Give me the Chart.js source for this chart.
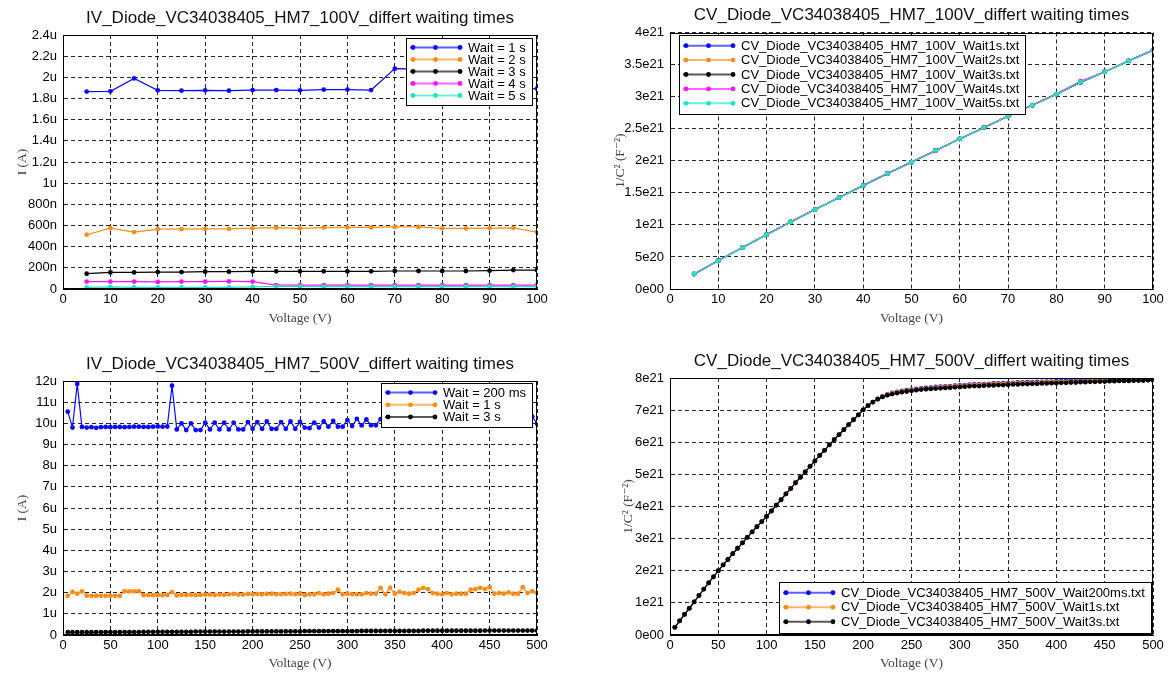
<!DOCTYPE html>
<html>
<head>
<meta charset="utf-8">
<script src="https://cdn.jsdelivr.net/npm/chart.js@4.4.0/dist/chart.umd.min.js"></script>
<style>
  html, body { margin: 0; padding: 0; background: #fff; overflow: hidden; }
  canvas { position: absolute; }
</style>
</head>
<body>
<canvas id="ivLow" width="586" height="338" style="left:0;top:0"></canvas>
<canvas id="cvLow" width="587" height="338" style="left:586px;top:0"></canvas>
<canvas id="ivHigh" width="586" height="339" style="left:0;top:338px"></canvas>
<canvas id="cvHigh" width="587" height="339" style="left:586px;top:338px"></canvas>
<script>
// ---- data: 100V sweeps (IV in uA, 1/C^2 in 1e21 F^-2) ----
const volts100 = [5, 10, 15, 20, 25, 30, 35, 40, 45, 50, 55, 60, 65, 70, 75, 80, 85, 90, 95, 100];

const iv100Wait1 = [1.865, 1.868, 1.99, 1.877, 1.874, 1.877, 1.874, 1.880, 1.880, 1.877, 1.884, 1.884, 1.880, 2.082, 2.079, 2.08, 2.08, 1.89, 1.89, 1.893];
const iv100Wait2 = [0.513, 0.575, 0.538, 0.566, 0.566, 0.569, 0.569, 0.575, 0.579, 0.573, 0.580, 0.582, 0.582, 0.587, 0.587, 0.573, 0.573, 0.575, 0.578, 0.538];
const iv100Wait3 = [0.145, 0.157, 0.157, 0.160, 0.160, 0.164, 0.164, 0.167, 0.167, 0.167, 0.167, 0.167, 0.167, 0.170, 0.170, 0.170, 0.170, 0.173, 0.179, 0.179];
const iv100Wait4 = [0.070, 0.070, 0.070, 0.067, 0.070, 0.070, 0.072, 0.070, 0.036, 0.036, 0.036, 0.036, 0.036, 0.036, 0.036, 0.036, 0.036, 0.036, 0.036, 0.036];
const iv100Wait5 = [0.016, 0.020, 0.015, 0.015, 0.015, 0.015, 0.016, 0.020, 0.024, 0.024, 0.022, 0.022, 0.022, 0.022, 0.022, 0.022, 0.022, 0.022, 0.022, 0.022];

const cv100Wait1 = [0.232, 0.441, 0.644, 0.847, 1.045, 1.237, 1.424, 1.612, 1.799, 1.976, 2.158, 2.340, 2.517, 2.693, 2.865, 3.037, 3.222, 3.385, 3.557, 3.723];
const cv100Wait2 = [0.233, 0.442, 0.645, 0.848, 1.046, 1.238, 1.425, 1.613, 1.800, 1.977, 2.159, 2.341, 2.518, 2.694, 2.866, 3.038, 3.224, 3.386, 3.558, 3.724];
const cv100Wait3 = [0.234, 0.443, 0.646, 0.849, 1.047, 1.239, 1.426, 1.614, 1.801, 1.978, 2.160, 2.342, 2.519, 2.695, 2.867, 3.039, 3.226, 3.387, 3.559, 3.725];
const cv100Wait4 = [0.235, 0.444, 0.646, 0.849, 1.047, 1.239, 1.426, 1.614, 1.801, 1.978, 2.160, 2.342, 2.519, 2.696, 2.868, 3.040, 3.240, 3.388, 3.560, 3.726];
const cv100Wait5 = [0.234, 0.442, 0.645, 0.848, 1.046, 1.238, 1.425, 1.613, 1.800, 1.977, 2.159, 2.341, 2.518, 2.694, 2.866, 3.038, 3.225, 3.386, 3.558, 3.724];

// ---- data: 500V sweeps ----
const volts500 = [
  5, 10, 15, 20, 25, 30, 35, 40, 45, 50, 55, 60, 65, 70, 75, 80, 85, 90, 95, 100,
  105, 110, 115, 120, 125, 130, 135, 140, 145, 150, 155, 160, 165, 170, 175, 180, 185, 190, 195, 200,
  205, 210, 215, 220, 225, 230, 235, 240, 245, 250, 255, 260, 265, 270, 275, 280, 285, 290, 295, 300,
  305, 310, 315, 320, 325, 330, 335, 340, 345, 350, 355, 360, 365, 370, 375, 380, 385, 390, 395, 400,
  405, 410, 415, 420, 425, 430, 435, 440, 445, 450, 455, 460, 465, 470, 475, 480, 485, 490, 495, 500
];

const iv500Wait200ms = [
  10.55, 9.80, 11.86, 9.83, 9.80, 9.82, 9.79, 9.82, 9.83, 9.82,
  9.83, 9.83, 9.82, 9.83, 9.84, 9.84, 9.83, 9.83, 9.84, 9.85,
  9.84, 9.85, 11.78, 9.71, 10.00, 9.68, 10.00, 9.68, 9.68, 10.03,
  9.71, 10.03, 9.71, 10.03, 9.71, 10.03, 9.71, 9.71, 10.06, 9.74,
  10.06, 9.74, 10.09, 9.74, 9.74, 10.06, 9.74, 10.09, 9.74, 10.07,
  9.80, 9.77, 10.03, 9.80, 10.09, 9.84, 10.12, 9.84, 9.84, 10.15,
  9.87, 10.21, 9.90, 10.18, 9.91, 9.91, 10.20, 9.92, 10.22, 9.93,
  10.22, 9.94, 9.94, 10.24, 9.95, 10.25, 9.96, 10.26, 9.96, 9.97,
  10.27, 9.98, 10.28, 9.98, 10.28, 9.99, 9.99, 10.30, 10.00, 10.30,
  10.00, 10.31, 10.01, 10.01, 10.31, 10.02, 10.32, 10.02, 10.31, 9.99
];
const iv500Wait1 = [
  1.85, 2.04, 1.95, 2.06, 1.86, 1.85, 1.86, 1.85, 1.85, 1.86,
  1.85, 1.85, 2.07, 2.06, 2.06, 2.07, 1.88, 1.88, 1.88, 1.89,
  1.88, 1.89, 2.03, 1.87, 1.90, 1.89, 1.90, 1.88, 1.90, 1.91,
  1.91, 1.89, 1.91, 1.90, 1.92, 1.94, 1.91, 1.91, 1.94, 1.92,
  1.94, 1.92, 1.94, 1.95, 1.92, 1.93, 1.94, 1.95, 1.93, 1.95,
  1.89, 1.92, 1.92, 1.98, 1.92, 1.95, 1.98, 2.14, 1.92, 1.95,
  1.92, 1.92, 1.92, 1.98, 1.95, 1.95, 2.23, 1.92, 2.23, 1.95,
  2.04, 1.98, 1.95, 1.98, 2.14, 2.23, 2.17, 1.98, 1.95, 1.92,
  1.98, 1.92, 1.95, 1.95, 1.95, 2.14, 2.17, 2.23, 2.17, 2.26,
  1.95, 1.98, 1.95, 2.01, 1.95, 1.95, 2.26, 1.98, 2.07, 1.98
];
const iv500Wait3 = [
  0.13, 0.13, 0.13, 0.13, 0.13, 0.13, 0.13, 0.14, 0.14, 0.14,
  0.14, 0.14, 0.14, 0.14, 0.14, 0.14, 0.15, 0.15, 0.15, 0.15,
  0.15, 0.15, 0.15, 0.15, 0.15, 0.15, 0.15, 0.16, 0.16, 0.16,
  0.16, 0.16, 0.16, 0.16, 0.16, 0.16, 0.16, 0.16, 0.17, 0.17,
  0.17, 0.17, 0.17, 0.17, 0.17, 0.17, 0.17, 0.17, 0.17, 0.17,
  0.18, 0.18, 0.18, 0.18, 0.18, 0.18, 0.18, 0.18, 0.18, 0.18,
  0.18, 0.18, 0.19, 0.19, 0.19, 0.19, 0.19, 0.19, 0.19, 0.19,
  0.19, 0.19, 0.19, 0.19, 0.19, 0.20, 0.20, 0.20, 0.20, 0.20,
  0.20, 0.20, 0.20, 0.20, 0.20, 0.20, 0.20, 0.20, 0.21, 0.21,
  0.21, 0.21, 0.21, 0.21, 0.21, 0.21, 0.21, 0.21, 0.21, 0.21
];

const cv500Wait200ms = [
  0.24, 0.44, 0.64, 0.83, 1.03, 1.23, 1.43, 1.62, 1.81, 2.00,
  2.18, 2.35, 2.53, 2.70, 2.87, 3.04, 3.21, 3.37, 3.53, 3.69,
  3.86, 4.04, 4.21, 4.39, 4.56, 4.74, 4.91, 5.08, 5.25, 5.42,
  5.59, 5.75, 5.92, 6.08, 6.24, 6.39, 6.55, 6.70, 6.85, 7.01,
  7.14, 7.25, 7.35, 7.43, 7.49, 7.54, 7.57, 7.60, 7.62, 7.64,
  7.66, 7.68, 7.69, 7.70, 7.72, 7.73, 7.74, 7.75, 7.76, 7.77,
  7.78, 7.79, 7.80, 7.80, 7.81, 7.82, 7.83, 7.83, 7.84, 7.84,
  7.85, 7.86, 7.86, 7.87, 7.87, 7.88, 7.88, 7.89, 7.89, 7.90,
  7.90, 7.91, 7.91, 7.91, 7.92, 7.92, 7.92, 7.93, 7.93, 7.93,
  7.93, 7.94, 7.94, 7.94, 7.94, 7.95, 7.95, 7.95, 7.95, 7.95
];
const cv500Wait1 = [
  0.24, 0.44, 0.64, 0.83, 1.03, 1.23, 1.43, 1.62, 1.81, 2.00,
  2.18, 2.35, 2.53, 2.70, 2.87, 3.04, 3.21, 3.37, 3.53, 3.69,
  3.86, 4.04, 4.21, 4.39, 4.56, 4.74, 4.91, 5.08, 5.25, 5.42,
  5.59, 5.75, 5.92, 6.08, 6.24, 6.39, 6.55, 6.70, 6.85, 7.01,
  7.14, 7.25, 7.34, 7.42, 7.48, 7.52, 7.55, 7.58, 7.60, 7.62,
  7.64, 7.66, 7.67, 7.68, 7.70, 7.71, 7.72, 7.73, 7.74, 7.75,
  7.76, 7.77, 7.78, 7.78, 7.79, 7.80, 7.80, 7.81, 7.82, 7.82,
  7.83, 7.83, 7.84, 7.84, 7.85, 7.85, 7.86, 7.86, 7.87, 7.87,
  7.88, 7.88, 7.88, 7.89, 7.89, 7.89, 7.90, 7.90, 7.90, 7.91,
  7.91, 7.91, 7.92, 7.92, 7.92, 7.93, 7.93, 7.93, 7.94, 7.94
];
const cv500Wait3 = [
  0.24, 0.44, 0.64, 0.83, 1.03, 1.23, 1.43, 1.62, 1.81, 2.00,
  2.18, 2.35, 2.53, 2.70, 2.87, 3.04, 3.21, 3.37, 3.53, 3.69,
  3.86, 4.04, 4.21, 4.39, 4.56, 4.74, 4.91, 5.08, 5.25, 5.42,
  5.59, 5.75, 5.92, 6.08, 6.24, 6.39, 6.55, 6.70, 6.85, 7.01,
  7.14, 7.25, 7.34, 7.41, 7.46, 7.50, 7.53, 7.56, 7.58, 7.60,
  7.62, 7.64, 7.65, 7.66, 7.67, 7.68, 7.69, 7.70, 7.71, 7.72,
  7.73, 7.74, 7.75, 7.75, 7.76, 7.77, 7.77, 7.78, 7.78, 7.79,
  7.80, 7.80, 7.81, 7.81, 7.82, 7.82, 7.83, 7.83, 7.84, 7.84,
  7.85, 7.85, 7.86, 7.86, 7.87, 7.87, 7.88, 7.88, 7.89, 7.89,
  7.90, 7.90, 7.91, 7.91, 7.91, 7.92, 7.92, 7.92, 7.93, 7.93
];

// ---- tick labels ----
const iv100Ticks = ['0', '200n', '400n', '600n', '800n', '1u', '1.2u', '1.4u', '1.6u', '1.8u', '2u', '2.2u', '2.4u'];
const cv100Ticks = ['0e00', '5e20', '1e21', '1.5e21', '2e21', '2.5e21', '3e21', '3.5e21', '4e21'];
const iv500Ticks = ['0', '1u', '2u', '3u', '4u', '5u', '6u', '7u', '8u', '9u', '10u', '11u', '12u'];
const cv500Ticks = ['0e00', '1e21', '2e21', '3e21', '4e21', '5e21', '6e21', '7e21', '8e21'];

const BLUE = '#0a0aff';
const ORANGE = '#ff8c1a';
const BLACK = '#000000';
const MAGENTA = '#ff14ff';
const CYAN = '#1de5c4';

const SANS = '"Liberation Sans", Arial, Helvetica, sans-serif';
const SERIF = '"Liberation Serif", "DejaVu Serif", serif';

// black frame round the plot area
const framePlugin = {
    id: 'frame',
    afterDatasetsDraw(chart) {
        const { ctx, chartArea: a } = chart;
        ctx.save();
        ctx.strokeStyle = '#000';
        ctx.lineWidth = 1;
        ctx.strokeRect(Math.round(a.left) + 0.5, Math.round(a.top) + 0.5,
            Math.round(a.right - a.left) - 1, Math.round(a.bottom - a.top) - 1);
        ctx.restore();
    }
};

// boxed legend drawn inside the plot area
const boxLegend = {
    id: 'boxLegend',
    afterDraw(chart, args, opts) {
        const { ctx, chartArea: a } = chart;
        const sets = chart.data.datasets;
        ctx.save();
        ctx.font = '13px ' + SANS;
        let textW = 0;
        sets.forEach((d) => { textW = Math.max(textW, ctx.measureText(d.label).width); });
        const lineLen = 51;
        const w = Math.round(4 + lineLen + 7 + textW + 6);
        const h = Math.round(opts.rowH * sets.length + 7);
        const x = Math.round(opts.corner === 'tl' ? a.left + opts.dx : a.right - opts.dx - w);
        const y = Math.round(opts.corner === 'br' ? a.bottom - opts.dy - h : a.top + opts.dy);
        ctx.fillStyle = '#fff';
        ctx.fillRect(x, y, w, h);
        ctx.strokeStyle = '#000';
        ctx.lineWidth = 1;
        ctx.strokeRect(x + 0.5, y + 0.5, w, h);
        sets.forEach((d, i) => {
            const cy = y + 3.5 + opts.rowH * (i + 0.5);
            const x0 = x + 4;
            const x1 = x0 + lineLen;
            ctx.globalAlpha = 0.65;
            ctx.strokeStyle = d.borderColor;
            ctx.lineWidth = 2;
            ctx.beginPath();
            ctx.moveTo(x0, cy);
            ctx.lineTo(x1, cy);
            ctx.stroke();
            ctx.globalAlpha = 1;
            ctx.fillStyle = d.borderColor;
            [x0 + 3, (x0 + x1) / 2, x1 - 1].forEach((px) => {
                ctx.beginPath();
                ctx.arc(px, cy, 2.4, 0, Math.PI * 2);
                ctx.fill();
            });
            ctx.fillStyle = '#000';
            ctx.textBaseline = 'middle';
            ctx.textAlign = 'left';
            ctx.fillText(d.label, x1 + 7, cy + 0.5);
        });
        ctx.restore();
    }
};

function makePanel(canvasId, cfg) {
    const n = cfg.series.length;
    return new Chart(document.getElementById(canvasId), {
        type: 'line',
        data: {
            datasets: cfg.series.map((s, i) => ({
                label: s.label,
                data: cfg.volts.map((v, k) => ({ x: v, y: s.values[k] })),
                borderColor: s.color,
                backgroundColor: s.color,
                pointBackgroundColor: s.color,
                pointBorderWidth: 0,
                pointRadius: 2.4,
                borderWidth: 1.2,
                order: n - i // later series drawn on top
            }))
        },
        options: {
            responsive: false,
            animation: false,
            layout: { padding: { right: cfg.padRight } },
            plugins: {
                legend: { display: false },
                tooltip: { enabled: false },
                title: {
                    display: true,
                    text: cfg.title,
                    fullSize: false,
                    color: '#111',
                    font: { family: SANS, size: 17, weight: 'normal', lineHeight: '20px' },
                    padding: { top: cfg.titleTop, bottom: cfg.titleBottom }
                },
                boxLegend: cfg.legend
            },
            scales: {
                x: {
                    type: 'linear',
                    min: 0,
                    max: cfg.xMax,
                    ticks: {
                        stepSize: cfg.xStep,
                        color: '#000',
                        font: { family: SANS, size: 13 },
                        padding: 3,
                        maxRotation: 0,
                        autoSkip: false
                    },
                    grid: { color: 'rgba(0,0,0,0.85)', lineWidth: 1, drawTicks: false },
                    border: { display: true, color: '#000', dash: [4, 3] },
                    title: {
                        display: true,
                        text: 'Voltage (V)',
                        color: '#444',
                        font: { family: SERIF, size: 13.5, lineHeight: '16px' },
                        padding: { top: 0, bottom: cfg.xTitleBottom }
                    },
                    afterFit: (scale) => { scale.height = cfg.xHeight; }
                },
                y: {
                    type: 'linear',
                    min: 0,
                    max: cfg.yMax,
                    ticks: {
                        stepSize: cfg.yStep,
                        color: '#000',
                        font: { family: SANS, size: 13 },
                        padding: 6,
                        autoSkip: false,
                        callback: (v, i) => cfg.yTicks[i]
                    },
                    grid: { color: 'rgba(0,0,0,0.85)', lineWidth: 1, drawTicks: false },
                    border: { display: true, color: '#000', dash: [4, 3] },
                    title: {
                        display: true,
                        text: cfg.yTitle,
                        color: '#444',
                        font: { family: SERIF, size: 13.5, lineHeight: '16px' },
                        padding: { top: cfg.yTitleLeft, bottom: 0 }
                    },
                    afterFit: (scale) => { scale.width = cfg.yWidth; }
                }
            }
        },
        plugins: [framePlugin, boxLegend]
    });
}

makePanel('ivLow', {
    title: 'IV_Diode_VC34038405_HM7_100V_differt waiting times',
    volts: volts100,
    series: [
        { label: 'Wait = 1 s', values: iv100Wait1, color: BLUE },
        { label: 'Wait = 2 s', values: iv100Wait2, color: ORANGE },
        { label: 'Wait = 3 s', values: iv100Wait3, color: BLACK },
        { label: 'Wait = 4 s', values: iv100Wait4, color: MAGENTA },
        { label: 'Wait = 5 s', values: iv100Wait5, color: CYAN }
    ],
    xMax: 100, xStep: 10, yMax: 2.4, yStep: 0.2, yTicks: iv100Ticks,
    yTitle: 'I (A)', yWidth: 63, yTitleLeft: 14,
    padRight: 49, titleTop: 8, titleBottom: 7, xHeight: 49, xTitleBottom: 12,
    legend: { corner: 'tr', dx: 5, dy: 3, rowH: 12 }
});

makePanel('cvLow', {
    title: 'CV_Diode_VC34038405_HM7_100V_differt waiting times',
    volts: volts100,
    series: [
        { label: 'CV_Diode_VC34038405_HM7_100V_Wait1s.txt', values: cv100Wait1, color: BLUE },
        { label: 'CV_Diode_VC34038405_HM7_100V_Wait2s.txt', values: cv100Wait2, color: ORANGE },
        { label: 'CV_Diode_VC34038405_HM7_100V_Wait3s.txt', values: cv100Wait3, color: BLACK },
        { label: 'CV_Diode_VC34038405_HM7_100V_Wait4s.txt', values: cv100Wait4, color: MAGENTA },
        { label: 'CV_Diode_VC34038405_HM7_100V_Wait5s.txt', values: cv100Wait5, color: CYAN }
    ],
    xMax: 100, xStep: 10, yMax: 4, yStep: 0.5, yTicks: cv100Ticks,
    yTitle: '1/C² (F⁻²)', yWidth: 84, yTitleLeft: 26,
    padRight: 20, titleTop: 5, titleBottom: 7.5, xHeight: 49, xTitleBottom: 12,
    legend: { corner: 'tl', dx: 9, dy: 2, rowH: 14.4 }
});

makePanel('ivHigh', {
    title: 'IV_Diode_VC34038405_HM7_500V_differt waiting times',
    volts: volts500,
    series: [
        { label: 'Wait = 200 ms', values: iv500Wait200ms, color: BLUE },
        { label: 'Wait = 1 s', values: iv500Wait1, color: ORANGE },
        { label: 'Wait = 3 s', values: iv500Wait3, color: BLACK }
    ],
    xMax: 500, xStep: 50, yMax: 12, yStep: 1, yTicks: iv500Ticks,
    yTitle: 'I (A)', yWidth: 63, yTitleLeft: 14,
    padRight: 49, titleTop: 16, titleBottom: 7, xHeight: 42, xTitleBottom: 6,
    legend: { corner: 'tr', dx: 5, dy: 2, rowH: 12.2 }
});

makePanel('cvHigh', {
    title: 'CV_Diode_VC34038405_HM7_500V_differt waiting times',
    volts: volts500,
    series: [
        { label: 'CV_Diode_VC34038405_HM7_500V_Wait200ms.txt', values: cv500Wait200ms, color: BLUE },
        { label: 'CV_Diode_VC34038405_HM7_500V_Wait1s.txt', values: cv500Wait1, color: ORANGE },
        { label: 'CV_Diode_VC34038405_HM7_500V_Wait3s.txt', values: cv500Wait3, color: BLACK }
    ],
    xMax: 500, xStep: 50, yMax: 8, yStep: 1, yTicks: cv500Ticks,
    yTitle: '1/C² (F⁻²)', yWidth: 84, yTitleLeft: 34,
    padRight: 20, titleTop: 13, titleBottom: 7, xHeight: 42, xTitleBottom: 6,
    legend: { corner: 'br', dx: 2, dy: 2, rowH: 14.5 }
});
</script>
</body>
</html>
